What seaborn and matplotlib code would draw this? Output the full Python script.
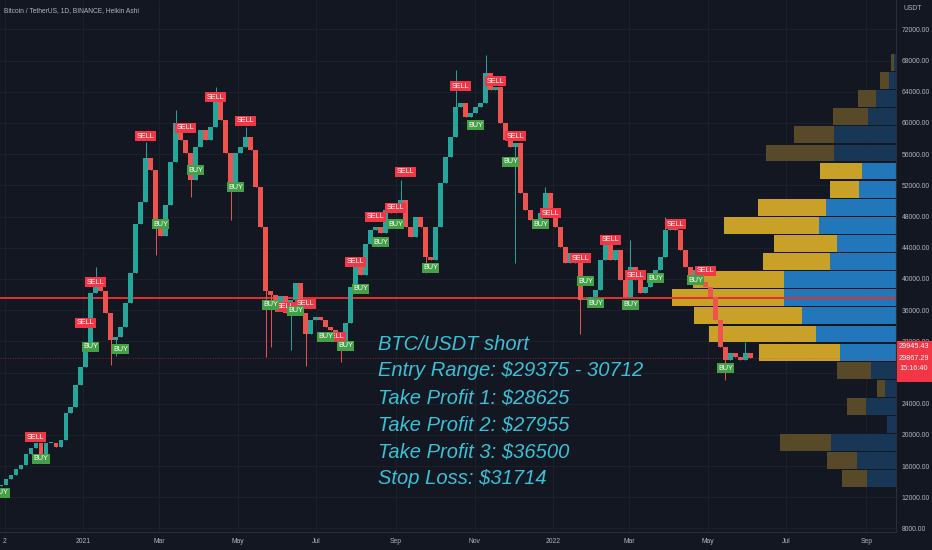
import numpy as np
import pandas as pd
import seaborn as sns
import matplotlib.pyplot as plt
import matplotlib.dates as mdates
from matplotlib.patches import Rectangle

# ---- data (BTC/USDT daily, Heikin Ashi, ~4 day steps) ----
closes = [13600, 14300, 14900, 15600, 16200, 17500, 18300, 18900, 17300, 18900,
          19000, 18400, 19300, 22800, 23600, 26400, 28700, 31800, 38200, 39500,
          38500, 35600, 32200, 32600, 33800, 36900, 40800, 47000, 49800, 55500,
          54000, 47500, 45500, 49500, 55000, 60000, 57800, 56100, 52700, 56900,
          59100, 57800, 59500, 62900, 60400, 56100, 52300, 56100, 56900, 58200,
          56500, 51800, 46700, 38500, 38000, 36900, 37800, 35600, 37300, 39500,
          35600, 33000, 34700, 35100, 34700, 33800, 33400, 32500, 31700, 34300,
          39000, 41500, 40500, 44500, 46300, 46700, 45900, 48800, 48400, 48800,
          50100, 46700, 45400, 48000, 46700, 42800, 42400, 46700, 52300, 55600,
          58200, 62100, 62600, 60800, 61300, 62100, 62600, 66400, 64200, 64600,
          60000, 57800, 56900, 57400, 51000, 48800, 47500, 47100, 48400, 51000,
          48800, 46700, 44100, 42000, 43300, 42000, 37300, 37300, 37700, 38600,
          42400, 44600, 42400, 43700, 39900, 37700, 41500, 39900, 38200, 39000,
          40300, 41200, 42800, 46300, 46700, 46300, 43700, 41500, 40300, 41200,
          39600, 39000, 37700, 34700, 31300, 29600, 30500, 30000, 29600, 30500,
          29900]
first_open = 13400

# long wicks visible on the chart (candle index -> price)
wick_high = {19: 41500, 29: 57500, 35: 61700, 43: 64600, 49: 59500, 80: 52700,
             91: 66800, 97: 68700, 109: 51800, 126: 45000, 133: 48000, 149: 31900}
wick_low = {8: 16800, 22: 28900, 23: 30100, 31: 43100, 38: 50500, 46: 47500,
            53: 30000, 54: 31300, 58: 30900, 61: 28800, 68: 29300, 85: 40800,
            103: 42000, 116: 33000, 145: 27100}

sell_idx = [7, 17, 19, 29, 37, 43, 49, 57, 61, 67, 71, 75, 79, 81, 92, 99, 103,
            110, 116, 122, 127, 135, 141]
sell_price = [19730, 34350, 39600, 58320, 59350, 63320, 60250, 36400, 36790,
              32560, 42170, 47940, 49100, 53710, 64730, 65370, 58320, 48450,
              42680, 44990, 40500, 47040, 41020]
buy_idx = [0, 8, 18, 24, 32, 39, 47, 54, 59, 65, 69, 72, 76, 79, 86, 95, 102,
           108, 117, 119, 126, 131, 139, 145]
buy_price = [12560, 16920, 31270, 31010, 47040, 53960, 51780, 36660, 35890,
             32560, 31400, 38710, 44730, 47040, 41400, 59730, 54990, 47040,
             39730, 36910, 36660, 40110, 39850, 28570]

# volume profile rows, bottom to top
profile_low, profile_high = 13200, 68920
down_vol = [25, 30, 51, 0, 19, 8, 34, 81, 107, 108, 112, 91, 67, 63, 95, 68,
            29, 42, 68, 40, 35, 18, 9, 3]
up_vol = [29, 39, 65, 9, 30, 11, 25, 56, 80, 94, 112, 112, 66, 59, 77, 70,
          37, 34, 62, 62, 28, 20, 7, 2]
value_area = (7, 17)

support_level = 37500
last_price = 29867.29
price_tags = ["29945.43", "29867.29", "15:16:40"]

note_lines = ["BTC/USDT short", "Entry Range: $29375 - 30712",
              "Take Profit 1: $28625", "Take Profit 2: $27955",
              "Take Profit 3: $36500", "Stop Loss: $31714"]

month_ticks = ["2020-11-01", "2021-01-01", "2021-03-01", "2021-05-01",
               "2021-07-01", "2021-09-01", "2021-11-01", "2022-01-01",
               "2022-03-01", "2022-05-01", "2022-07-01", "2022-09-01"]
month_labels = ["2", "2021", "Mar", "May", "Jul", "Sep", "Nov", "2022", "Mar",
                "May", "Jul", "Sep"]
price_ticks = list(range(8000, 72001, 4000))

# ---- style ----
bg = "#131722"
grid_c = "#1c202b"
txt_c = "#b2b5be"
sns.set_theme(style="dark", rc={"axes.facecolor": bg, "figure.facecolor": bg})
plt.rcParams["font.family"] = ["Liberation Sans", "DejaVu Sans"]

fig = plt.figure(figsize=(9.32, 5.5), dpi=100)
ax = fig.add_axes([0, 18 / 550, 896 / 932, 532 / 550])
ax.set_facecolor(bg)

dates = pd.date_range("2020-10-29", "2022-06-03", periods=len(closes))
xd = mdates.date2num(dates)
step = xd[1] - xd[0]
xmin = mdates.date2num(pd.Timestamp("2020-10-28 12:00"))
xmax = mdates.date2num(pd.Timestamp("2022-09-24"))
ymin, ymax = 7550, 75760

# grid
for t in price_ticks:
    ax.axhline(t, color=grid_c, lw=0.8, zorder=0)
for t in month_ticks:
    ax.axvline(mdates.date2num(pd.Timestamp(t)), color=grid_c, lw=0.8, zorder=0)

# volume profile, anchored to the right edge
row_h = (profile_high - profile_low) / len(up_vol)
centers = profile_low + (np.arange(len(up_vol)) + 0.5) * row_h
unit = 0.25 * (xmax - xmin) / 224.0
for i, (u, d) in enumerate(zip(up_vol, down_vol)):
    bright = value_area[0] <= i <= value_area[1]
    cu = "#2177ba" if bright else "#183656"
    cd = "#c9a028" if bright else "#584a28"
    ax.barh(centers[i], -u * unit, left=xmax, height=row_h * 0.93,
            color=cu, lw=0, zorder=1)
    ax.barh(centers[i], -d * unit, left=xmax - u * unit, height=row_h * 0.93,
            color=cd, lw=0, zorder=1)

# horizontal levels
ax.axhline(support_level, color="#e0312f", lw=1.4, zorder=2)
ax.axhline(last_price, color="#f23645", lw=0.6, ls=(0, (1, 2)), alpha=0.6, zorder=2)

# candles
opens = [first_open] + closes[:-1]
up_c, dn_c = "#26a69a", "#ef5350"
for i, (x, o, c) in enumerate(zip(xd, opens, closes)):
    col = up_c if c >= o else dn_c
    hi = wick_high.get(i, max(o, c))
    lo = wick_low.get(i, min(o, c))
    ax.vlines(x, lo, hi, color=col, lw=0.7, zorder=3)
    h = c - o if abs(c - o) > 150 else (150 if c >= o else -150)
    ax.bar(x, h, bottom=o, width=step * 0.85, color=col, lw=0, zorder=3)

# signal labels
for i, p in zip(sell_idx, sell_price):
    ax.text(xd[i], p, "SELL", ha="center", va="center", fontsize=5.2,
            color="white", zorder=5,
            bbox=dict(boxstyle="square,pad=0.2", fc="#f23645", ec="none"))
for i, p in zip(buy_idx, buy_price):
    ax.text(xd[i], p, "BUY", ha="center", va="center", fontsize=5.2,
            color="white", zorder=5,
            bbox=dict(boxstyle="square,pad=0.2", fc="#43a047", ec="none"))

# trade note
for k, line in enumerate(note_lines):
    ax.text(378 / 896, 1 - (344 + 27 * k) / 532, line, transform=ax.transAxes,
            ha="left", va="center", fontsize=14.5, style="italic",
            color="#3cc0d6", zorder=6)

ax.text(4 / 896, 1 - 11 / 532, "Bitcoin / TetherUS, 1D, BINANCE, Heikin Ashi",
        transform=ax.transAxes, ha="left", va="center", fontsize=4.8, color=txt_c)

ax.set_xlim(xmin, xmax)
ax.set_ylim(ymin, ymax)
ax.yaxis.tick_right()
ax.set_yticks(price_ticks)
ax.set_yticklabels([f"{v:.2f}" for v in price_ticks])
ax.set_xticks([mdates.date2num(pd.Timestamp(t)) for t in month_ticks])
ax.set_xticklabels(month_labels)
ax.tick_params(axis="both", length=0, labelsize=4.9, colors=txt_c, pad=4)
ax.tick_params(axis="y", pad=4)
ax.grid(False)
for s in ["top", "left"]:
    ax.spines[s].set_visible(False)
for s in ["right", "bottom"]:
    ax.spines[s].set_color("#2a2e39")
    ax.spines[s].set_linewidth(0.8)

fig.text(903 / 932, 1 - 8 / 550, "USDT", ha="left", va="center",
         fontsize=4.9, color=txt_c)

# last price tag on the axis
fig.patches.append(Rectangle((897 / 932, (550 - 382) / 550), 35 / 932, 41 / 550,
                             transform=fig.transFigure, fc="#f23645", ec="none",
                             zorder=10))
for k, t in enumerate(price_tags):
    fig.text(914 / 932, 1 - (347 + 11 * k) / 550, t, ha="center", va="center",
             fontsize=5.2, color="white", zorder=11)

fig.savefig("out.png", dpi=100, facecolor=bg)
